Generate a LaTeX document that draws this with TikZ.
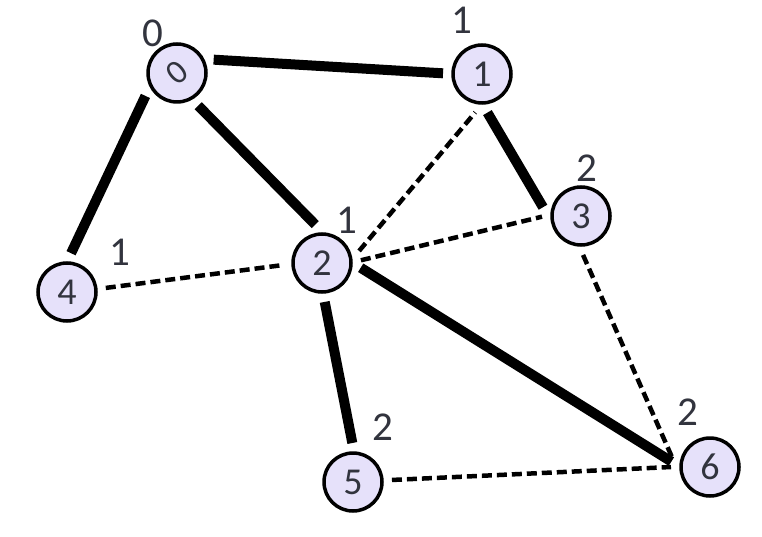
\documentclass[tikz,border=0pt]{standalone}
\usepackage{fontspec}
\setmainfont{Carlito}
\usepackage{graphicx}
\definecolor{vfill}{RGB}{230,225,250}
\definecolor{txt}{RGB}{50,52,62}
\begin{document}
\begin{tikzpicture}[x=1pt,y=-1pt,
 vert/.style={circle,draw=black,line width=3.5pt,fill=vfill,minimum size=58pt,inner sep=0pt,outer sep=10pt,font=\fontsize{38}{38}\selectfont,text=txt},
 lab/.style={font=\fontsize{41}{41}\selectfont,text=txt,inner sep=0pt},
 tree/.style={line width=10pt},
 back/.style={line width=4.5pt,dash pattern=on 10pt off 5pt}]
\useasboundingbox (0,0) rectangle (762,537);
\node[vert] (n0) at (177,73) {\rotatebox{40}{\fontsize{34}{34}\selectfont 0}};
\node[vert] (n1) at (482,74) {1};
\node[vert] (n2) at (322,263) {2};
\node[vert] (n3) at (581,216) {3};
\node[vert] (n4) at (67,292) {4};
\node[vert] (n5) at (353,482) {5};
\node[vert] (n6) at (710,467) {6};
\node[lab] (l0) at (153,33) {0};
\node[lab] (l1) at (462,20) {1};
\node[lab] (l2) at (347,220) {1};
\node[lab] (l3) at (587,168) {2};
\node[lab] (l4) at (120,252) {1};
\node[lab] (l5) at (383,427) {2};
\node[lab] (l6) at (688,412) {2};
\draw[tree] (n0.20) -- (n1.179);
\draw[tree] (n0.216) -- (n4.84);
\draw[tree] (n0.303) -- (n2.100);
\draw[tree] (n1.278) -- (n3.167);
\draw[tree] (n2.274) -- (n5.91);
\draw[tree] (n2.353) -- (n6.172);
\draw[back] (n4.6) -- (n2.183);
\draw[back] (n2.18) -- (n1.260);
\draw[back] (n2.4) -- (n3.181);
\draw[back] (n3.273) -- (n6.166);
\draw[back] (n5.3) -- (n6.180);
\end{tikzpicture}
\end{document}
